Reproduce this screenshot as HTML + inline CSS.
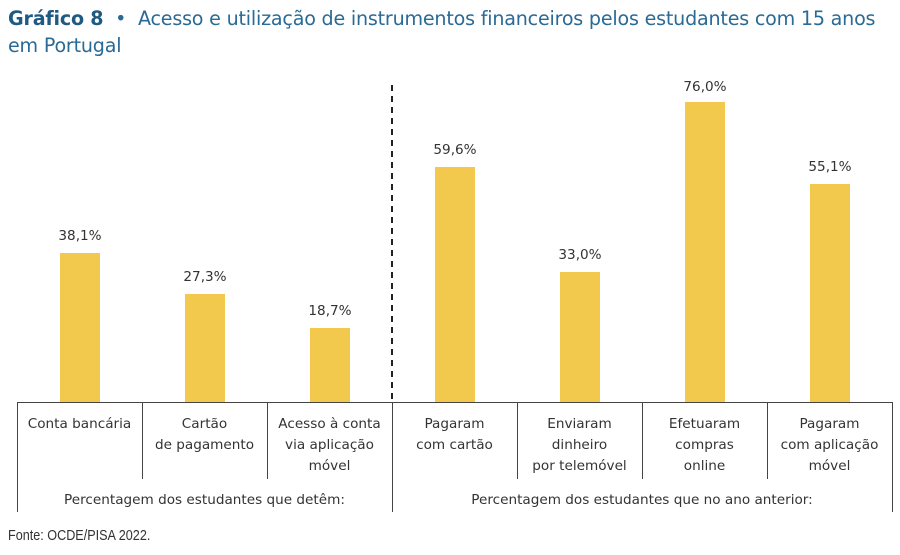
<!DOCTYPE html><html><head><meta charset="utf-8"><style>
body{margin:0;width:900px;height:555px;background:#fff;position:relative;font-family:"DejaVu Sans","Liberation Sans",sans-serif;overflow:hidden}
.t{position:absolute;left:8px;top:5px;font-size:19.1px;line-height:27px;color:#2a6a94;letter-spacing:-0.2px}
.t b{color:#1e5a82}
.a{position:absolute;font-size:13.6px;color:#333;text-align:center;line-height:21px}
.bar{position:absolute;width:40px;background:#f2c94c}
.v{position:absolute;width:1px;background:#444}
</style></head><body>
<div class="t"><b>Gráfico 8</b> &nbsp;•&nbsp; Acesso e utilização de instrumentos financeiros pelos estudantes com 15 anos<br>em Portugal</div>
<div class="bar" style="left:60px;top:253px;height:149px"></div>
<div class="bar" style="left:185px;top:294px;height:108px"></div>
<div class="bar" style="left:310px;top:328px;height:74px"></div>
<div class="bar" style="left:435px;top:167px;height:235px"></div>
<div class="bar" style="left:560px;top:272px;height:130px"></div>
<div class="bar" style="left:685px;top:102px;height:300px"></div>
<div class="bar" style="left:810px;top:184px;height:218px"></div>
<div class="a" style="left:40px;width:80px;top:226px">38,1%</div>
<div class="a" style="left:165px;width:80px;top:267px">27,3%</div>
<div class="a" style="left:290px;width:80px;top:301px">18,7%</div>
<div class="a" style="left:415px;width:80px;top:140px">59,6%</div>
<div class="a" style="left:540px;width:80px;top:245px">33,0%</div>
<div class="a" style="left:665px;width:80px;top:77px">76,0%</div>
<div class="a" style="left:790px;width:80px;top:157px">55,1%</div>
<svg style="position:absolute;left:0;top:0" width="900" height="555"><line x1="392" y1="85" x2="392" y2="402" stroke="#222" stroke-width="2" stroke-dasharray="6,5"/></svg>
<div style="position:absolute;left:17px;top:402px;width:876px;height:1px;background:#444"></div>
<div class="v" style="left:17px;top:402px;height:110px"></div>
<div class="v" style="left:392px;top:402px;height:110px"></div>
<div class="v" style="left:892px;top:402px;height:110px"></div>
<div class="v" style="left:142px;top:402px;height:77px"></div>
<div class="v" style="left:267px;top:402px;height:77px"></div>
<div class="v" style="left:517px;top:402px;height:77px"></div>
<div class="v" style="left:642px;top:402px;height:77px"></div>
<div class="v" style="left:767px;top:402px;height:77px"></div>
<div class="a" style="left:17px;width:125px;top:414px">Conta bancária</div>
<div class="a" style="left:142px;width:125px;top:414px">Cartão<br>de pagamento</div>
<div class="a" style="left:267px;width:125px;top:414px">Acesso à conta<br>via aplicação<br>móvel</div>
<div class="a" style="left:392px;width:125px;top:414px">Pagaram<br>com cartão</div>
<div class="a" style="left:517px;width:125px;top:414px">Enviaram<br>dinheiro<br>por telemóvel</div>
<div class="a" style="left:642px;width:125px;top:414px">Efetuaram<br>compras<br>online</div>
<div class="a" style="left:767px;width:125px;top:414px">Pagaram<br>com aplicação<br>móvel</div>
<div class="a" style="left:17px;width:375px;top:490px">Percentagem dos estudantes que detêm:</div>
<div class="a" style="left:392px;width:500px;top:490px">Percentagem dos estudantes que no ano anterior:</div>
<div style="position:absolute;left:8px;top:528px;font-family:'Liberation Sans Narrow','Liberation Sans',sans-serif;font-size:14.5px;color:#333;transform:scaleX(0.87);transform-origin:left">Fonte: OCDE/PISA 2022.</div>
</body></html>
